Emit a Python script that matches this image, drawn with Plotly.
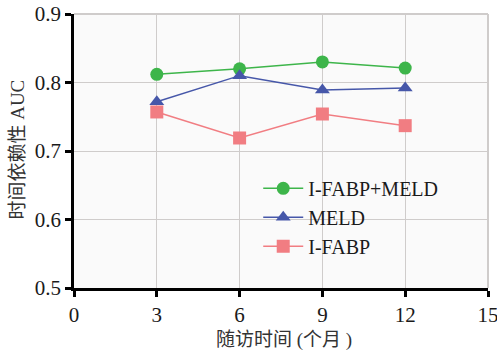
import plotly.graph_objects as go

months = [3, 6, 9, 12]
combined = [0.812, 0.820, 0.830, 0.821]
meld = [0.772, 0.810, 0.789, 0.792]
ifabp = [0.757, 0.719, 0.754, 0.737]
x_ticks = [0, 3, 6, 9, 12, 15]
y_ticks = [0.5, 0.6, 0.7, 0.8, 0.9]

SERIF = "Liberation Serif"
MIXED = "Liberation Serif, Noto Sans CJK SC"

fig = go.Figure()
series = [
    ("I-FABP+MELD", combined, "#3db54a", "circle"),
    ("MELD", meld, "#4657a9", "triangle-up"),
    ("I-FABP", ifabp, "#f17d82", "square"),
]
for name, vals, col, sym in series:
    fig.add_trace(go.Scatter(
        x=months, y=vals, name=name, mode="lines+markers",
        line=dict(color=col, width=1.5),
        marker=dict(symbol=sym, size=13, color=col),
    ))

fig.update_layout(
    width=497, height=353,
    margin=dict(l=74, r=9, t=14, b=65, autoexpand=False),
    paper_bgcolor="white",
    plot_bgcolor="#fafafa",
    font=dict(family=SERIF, size=21, color="#1a1a1a"),
    showlegend=True,
    legend=dict(x=0.445, y=0.435, xanchor="left", yanchor="top",
                bgcolor="rgba(0,0,0,0)", font=dict(size=20, family=SERIF),
                itemwidth=40, tracegroupgap=0),
)
fig.update_xaxes(
    range=[0, 15], tickvals=x_ticks, ticktext=[str(v) for v in x_ticks],
    showgrid=True, gridcolor="#cfcccb", gridwidth=1,
    showline=True, linecolor="black", linewidth=2.5,
    ticks="outside", tickcolor="black", tickwidth=2.5, ticklen=6,
    mirror=False, zeroline=False, automargin=False, ticklabeloverflow="allow",
)
fig.update_yaxes(
    range=[0.5, 0.9], tickvals=y_ticks, ticktext=[f"{v:.1f}" for v in y_ticks],
    showgrid=True, gridcolor="#cfcccb", gridwidth=1,
    showline=True, linecolor="black", linewidth=2.5,
    ticks="outside", tickcolor="black", tickwidth=2.5, ticklen=6,
    zeroline=False, automargin=False, ticklabeloverflow="allow",
)
fig.add_annotation(text="随访时间 (个月 )", xref="paper", yref="paper",
                   x=0.508, y=-0.19, xanchor="center", yanchor="middle",
                   showarrow=False, font=dict(family=MIXED, size=19, color="#333"))
fig.add_annotation(text="时间依赖性 AUC", xref="paper", yref="paper",
                   x=-0.1365, y=0.507, xanchor="center", yanchor="middle", textangle=-90,
                   showarrow=False, font=dict(family=MIXED, size=19, color="#333"))
# gray border on top and right
fig.add_shape(type="line", xref="paper", yref="paper", x0=0, x1=1, y0=1, y1=1,
              line=dict(color="#cfcccb", width=2))
fig.add_shape(type="line", xref="paper", yref="paper", x0=1, x1=1, y0=0, y1=1,
              line=dict(color="#cfcccb", width=2))

fig.write_html("out.html", config={"displayModeBar": False},
               post_script="document.body.style.margin='0';document.body.style.overflow='hidden';")
